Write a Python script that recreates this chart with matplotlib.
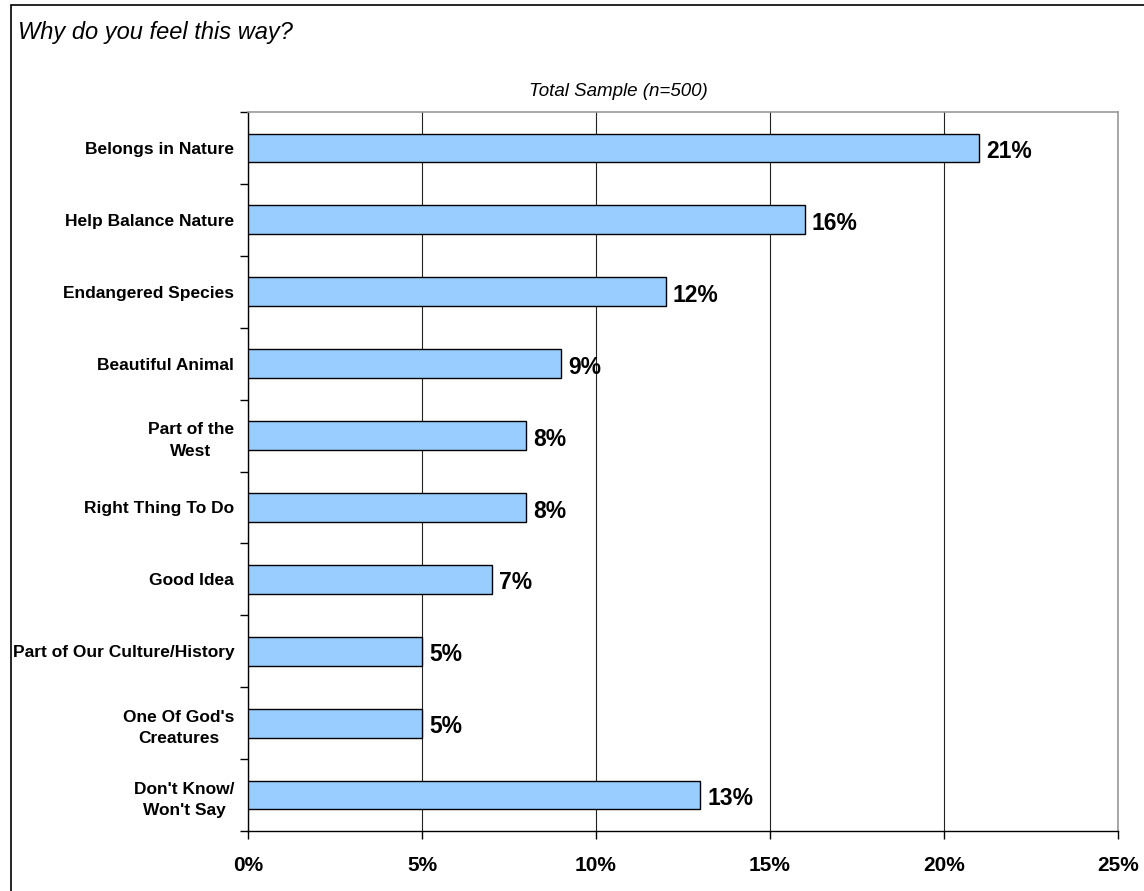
import matplotlib
matplotlib.use("Agg")
import matplotlib.pyplot as plt
from matplotlib.patches import Rectangle
import numpy as np

plt.rcParams['font.family'] = ['Liberation Sans', 'DejaVu Sans']

categories = ["Belongs in Nature", "Help Balance Nature", "Endangered Species",
              "Beautiful Animal", "Part of the\nWest", "Right Thing To Do",
              "Good Idea", "Part of Our Culture/History", "One Of God's\nCreatures",
              "Don't Know/\nWon't Say"]
values = [21, 16, 12, 9, 8, 8, 7, 5, 5, 13]
xticks = [0, 5, 10, 15, 20, 25]
xlabels = ["0%", "5%", "10%", "15%", "20%", "25%"]

fig = plt.figure(figsize=(11.44, 8.91), dpi=100)
ax = fig.add_axes([0.2168, 0.0673, 0.7605, 0.807])

y = np.arange(len(categories))
ax.barh(y, values, height=0.4, color="#99CCFF", edgecolor="black", linewidth=1, zorder=3)

# value labels next to bars
for yi, v in zip(y, values):
    ax.text(v + 0.2, yi + 0.05, f"{v}%", va="center", ha="left",
            fontsize=16.5, fontweight="bold", zorder=4)

ax.set_xlim(0, 25)
ax.set_ylim(len(categories) - 0.5, -0.5)
ax.set_xticks(xticks)
ax.set_xticklabels(xlabels, fontsize=15, fontweight="bold")
ax.xaxis.grid(True, color="#222222", linewidth=0.8, zorder=0)
ax.tick_params(axis="x", length=6, width=1, direction="out", pad=12)

ax.set_yticks(y)
ax.set_yticklabels(categories, fontsize=12.5, fontweight="bold")
for lab in ax.get_yticklabels():
    lab.set_multialignment("center")
    lab.set_linespacing(1.55)
ax.tick_params(axis="y", which="major", length=0, pad=10)
ax.set_yticks(np.arange(-0.5, len(categories), 1.0), minor=True)
ax.tick_params(axis="y", which="minor", length=6, width=1, direction="out")

for side in ["top", "right"]:
    ax.spines[side].set_color("#999999")
    ax.spines[side].set_linewidth(1.2)
for side in ["left", "bottom"]:
    ax.spines[side].set_color("black")
    ax.spines[side].set_linewidth(1)

fig.text(18 / 1144, 1 - 32 / 891, "Why do you feel this way?", fontsize=17,
         fontstyle="italic", va="center", ha="left")
fig.text(618 / 1144, 1 - 91 / 891, "Total Sample (n=500)", fontsize=13.5,
         fontstyle="italic", va="center", ha="center")

# frame around the whole chart
fig.patches.append(Rectangle((11 / 1144, -0.1), 1.2, 1 - 5 / 891 + 0.1,
                             transform=fig.transFigure, fill=False,
                             edgecolor="black", linewidth=1.2))

fig.savefig("out.png", dpi=100)
